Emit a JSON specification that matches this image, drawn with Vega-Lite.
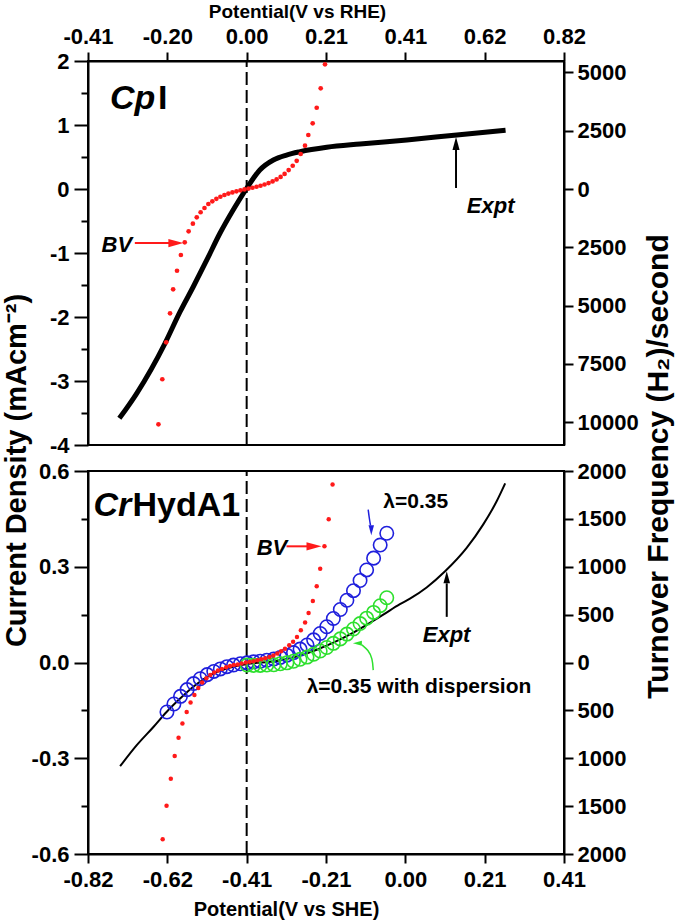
{
  "$schema": "https://vega.github.io/schema/vega-lite/v6.json",
  "autosize": {"type": "none"},
  "padding": {"left": 88, "top": 61, "right": 589, "bottom": 861},
  "config": {
    "font": "Liberation Sans",
    "view": {"stroke": "#000", "strokeWidth": 2},
    "axis": {"domainColor": "#000", "domainWidth": 2, "tickColor": "#000", "tickWidth": 2, "labelColor": "#000", "labelFont": "Liberation Sans", "labelFontWeight": "bold", "labelFontSize": 22, "titleColor": "#000", "titleFont": "Liberation Sans", "titleFontWeight": "bold", "grid": false, "labelOverlap": false, "labelFlush": false, "labelBound": false}
  },
  "datasets": {
    "cpiExpt": [
      {"E": -0.329, "j": -3.583}, {"E": -0.284, "j": -3.192}, {"E": -0.211, "j": -2.411}, {"E": -0.172, "j": -1.917}, {"E": -0.138, "j": -1.527}, {"E": -0.103, "j": -1.109}, {"E": -0.069, "j": -0.692}, {"E": -0.035, "j": -0.328}, {"E": 0.0, "j": 0.011}, {"E": 0.034, "j": 0.297}, {"E": 0.069, "j": 0.453}, {"E": 0.103, "j": 0.531}, {"E": 0.138, "j": 0.583}, {"E": 0.207, "j": 0.652}, {"E": 0.293, "j": 0.703}, {"E": 0.414, "j": 0.766}, {"E": 0.543, "j": 0.844}, {"E": 0.669, "j": 0.917}
    ],
    "cpiBV": [
      {"E": -0.228, "j": -3.677}, {"E": -0.218, "j": -2.973}, {"E": -0.208, "j": -2.396}, {"E": -0.198, "j": -1.943}, {"E": -0.19, "j": -1.567}, {"E": -0.18, "j": -1.277}, {"E": -0.17, "j": -1.031}, {"E": -0.16, "j": -0.833}, {"E": -0.15, "j": -0.661}, {"E": -0.139, "j": -0.542}, {"E": -0.129, "j": -0.442}, {"E": -0.119, "j": -0.363}, {"E": -0.109, "j": -0.297}, {"E": -0.099, "j": -0.234}, {"E": -0.0887, "j": -0.193}, {"E": -0.0783, "j": -0.153}, {"E": -0.0679, "j": -0.121}, {"E": -0.0575, "j": -0.094}, {"E": -0.0472, "j": -0.071}, {"E": -0.0368, "j": -0.053}, {"E": -0.0264, "j": -0.036}, {"E": -0.016, "j": -0.021}, {"E": -0.0057, "j": -0.007}, {"E": 0.0047, "j": 0.006}, {"E": 0.0151, "j": 0.02}, {"E": 0.0255, "j": 0.035}, {"E": 0.0358, "j": 0.051}, {"E": 0.0462, "j": 0.07}, {"E": 0.0566, "j": 0.092}, {"E": 0.067, "j": 0.118}, {"E": 0.0773, "j": 0.149}, {"E": 0.0877, "j": 0.189}, {"E": 0.098, "j": 0.236}, {"E": 0.1085, "j": 0.296}, {"E": 0.119, "j": 0.363}, {"E": 0.1293, "j": 0.44}, {"E": 0.1396, "j": 0.547}, {"E": 0.1507, "j": 0.677}, {"E": 0.1593, "j": 0.844}, {"E": 0.1706, "j": 1.026}, {"E": 0.181, "j": 1.27}, {"E": 0.1913, "j": 1.573}, {"E": 0.2024, "j": 1.948}
    ],
    "crExpt": [
      {"E": -0.737, "j": -0.325}, {"E": -0.694, "j": -0.259}, {"E": -0.651, "j": -0.202}, {"E": -0.617, "j": -0.155}, {"E": -0.582, "j": -0.113}, {"E": -0.548, "j": -0.076}, {"E": -0.505, "j": -0.04}, {"E": -0.462, "j": -0.019}, {"E": -0.41, "j": -0.005}, {"E": -0.332, "j": 0.005}, {"E": -0.272, "j": 0.022}, {"E": -0.229, "j": 0.04}, {"E": -0.186, "j": 0.062}, {"E": -0.143, "j": 0.088}, {"E": -0.1, "j": 0.118}, {"E": -0.057, "j": 0.15}, {"E": -0.014, "j": 0.183}, {"E": 0.012, "j": 0.2}, {"E": 0.055, "j": 0.235}, {"E": 0.102, "j": 0.285}, {"E": 0.159, "j": 0.36}, {"E": 0.201, "j": 0.432}, {"E": 0.236, "j": 0.505}, {"E": 0.258, "j": 0.561}
    ],
    "crBV": [
      {"E": -0.627, "j": -0.554}, {"E": -0.617, "j": -0.449}, {"E": -0.606, "j": -0.364}, {"E": -0.596, "j": -0.293}, {"E": -0.586, "j": -0.236}, {"E": -0.576, "j": -0.191}, {"E": -0.565, "j": -0.155}, {"E": -0.555, "j": -0.125}, {"E": -0.545, "j": -0.102}, {"E": -0.535, "j": -0.08}, {"E": -0.525, "j": -0.063}, {"E": -0.514, "j": -0.049}, {"E": -0.504, "j": -0.039}, {"E": -0.494, "j": -0.031}, {"E": -0.484, "j": -0.025}, {"E": -0.474, "j": -0.02}, {"E": -0.463, "j": -0.015}, {"E": -0.453, "j": -0.011}, {"E": -0.443, "j": -0.008}, {"E": -0.433, "j": -0.006}, {"E": -0.423, "j": -0.003}, {"E": -0.412, "j": 0.0}, {"E": -0.402, "j": 0.002}, {"E": -0.392, "j": 0.004}, {"E": -0.382, "j": 0.007}, {"E": -0.372, "j": 0.01}, {"E": -0.362, "j": 0.013}, {"E": -0.351, "j": 0.017}, {"E": -0.341, "j": 0.022}, {"E": -0.331, "j": 0.028}, {"E": -0.321, "j": 0.035}, {"E": -0.311, "j": 0.043}, {"E": -0.3, "j": 0.054}, {"E": -0.29, "j": 0.065}, {"E": -0.28, "j": 0.08}, {"E": -0.27, "j": 0.101}, {"E": -0.259, "j": 0.125}, {"E": -0.25, "j": 0.155}, {"E": -0.239, "j": 0.193}, {"E": -0.229, "j": 0.239}, {"E": -0.22, "j": 0.294}, {"E": -0.209, "j": 0.364}, {"E": -0.198, "j": 0.449}, {"E": -0.188, "j": 0.558}
    ],
    "crLam": [
      {"E": -0.048, "j": 0.405}, {"E": -0.065, "j": 0.368}, {"E": -0.082, "j": 0.327}, {"E": -0.1, "j": 0.29}, {"E": -0.117, "j": 0.257}, {"E": -0.134, "j": 0.225}, {"E": -0.151, "j": 0.195}, {"E": -0.168, "j": 0.166}, {"E": -0.186, "j": 0.138}, {"E": -0.203, "j": 0.112}, {"E": -0.22, "j": 0.091}, {"E": -0.237, "j": 0.071}, {"E": -0.254, "j": 0.055}, {"E": -0.272, "j": 0.042}, {"E": -0.289, "j": 0.031}, {"E": -0.306, "j": 0.023}, {"E": -0.323, "j": 0.016}, {"E": -0.34, "j": 0.011}, {"E": -0.358, "j": 0.007}, {"E": -0.375, "j": 0.004}, {"E": -0.392, "j": 0.002}, {"E": -0.409, "j": -0.001}, {"E": -0.426, "j": -0.004}, {"E": -0.444, "j": -0.008}, {"E": -0.461, "j": -0.013}, {"E": -0.478, "j": -0.02}, {"E": -0.495, "j": -0.028}, {"E": -0.512, "j": -0.038}, {"E": -0.53, "j": -0.051}, {"E": -0.547, "j": -0.066}, {"E": -0.564, "j": -0.085}, {"E": -0.581, "j": -0.106}, {"E": -0.598, "j": -0.13}, {"E": -0.616, "j": -0.155}
    ],
    "crDis": [
      {"E": -0.048, "j": 0.203}, {"E": -0.065, "j": 0.178}, {"E": -0.082, "j": 0.157}, {"E": -0.1, "j": 0.139}, {"E": -0.117, "j": 0.122}, {"E": -0.134, "j": 0.105}, {"E": -0.151, "j": 0.089}, {"E": -0.168, "j": 0.074}, {"E": -0.186, "j": 0.06}, {"E": -0.203, "j": 0.047}, {"E": -0.22, "j": 0.036}, {"E": -0.237, "j": 0.026}, {"E": -0.254, "j": 0.017}, {"E": -0.272, "j": 0.01}, {"E": -0.289, "j": 0.004}, {"E": -0.306, "j": -0.001}, {"E": -0.323, "j": -0.004}, {"E": -0.34, "j": -0.007}, {"E": -0.358, "j": -0.008}, {"E": -0.375, "j": -0.009}, {"E": -0.392, "j": -0.009}, {"E": -0.409, "j": -0.008}
    ],
    "vTop": [{"E": 0, "j": -4, "j2": 2}],
    "vBot": [{"E": -0.41, "j": -0.6, "j2": 0.6}],
    "tofTop": [{"tof": -10000}, {"tof": 5000}],
    "tofBot": [{"tof": -2000}, {"tof": 2000}],
    "txtTopBigIt": [{"E": -0.353, "j": 1.25, "t": "Cp"}],
    "txtTopBig": [{"E": -0.229, "j": 1.25, "t": "I"}],
    "txtTopIt": [{"E": -0.375, "j": -0.98, "t": "BV"}, {"E": 0.569, "j": -0.375, "t": "Expt"}],
    "txtBotBigIt": [{"E": -0.806, "j": 0.458, "t": "Cr"}],
    "txtBotBig": [{"E": -0.705, "j": 0.458, "t": "HydA1"}],
    "txtBotIt": [{"E": -0.384, "j": 0.336, "t": "BV"}, {"E": 0.045, "j": 0.065, "t": "Expt"}],
    "txtBot": [{"E": -0.057, "j": 0.483, "t": "λ=0.35"}, {"E": -0.255, "j": -0.096, "t": "λ=0.35 with dispersion"}],
    "arrTop": [
      {"a": "bv", "k": 0, "E": -0.289, "j": -0.844}, {"a": "bv", "k": 1, "E": -0.199, "j": -0.844},
      {"a": "ex", "k": 0, "E": 0.541, "j": 0.016}, {"a": "ex", "k": 1, "E": 0.541, "j": 0.64}
    ],
    "headTop": [{"a": "bv", "E": -0.183, "j": -0.844}, {"a": "ex", "E": 0.541, "j": 0.71}],
    "arrBot": [
      {"a": "bv", "k": 0, "E": -0.307, "j": 0.364}, {"a": "bv", "k": 1, "E": -0.252, "j": 0.364},
      {"a": "lam", "k": 0, "E": -0.096, "j": 0.479}, {"a": "lam", "k": 1, "E": -0.093, "j": 0.452}, {"a": "lam", "k": 2, "E": -0.09, "j": 0.43},
      {"a": "ex", "k": 0, "E": 0.107, "j": 0.143}, {"a": "ex", "k": 1, "E": 0.107, "j": 0.248},
      {"a": "dis", "k": 0, "E": -0.083, "j": -0.024}, {"a": "dis", "k": 1, "E": -0.085, "j": 0.013}, {"a": "dis", "k": 2, "E": -0.096, "j": 0.039}, {"a": "dis", "k": 3, "E": -0.112, "j": 0.055}
    ],
    "headBot": [{"a": "bv", "E": -0.236, "j": 0.364}, {"a": "lam", "E": -0.088, "j": 0.414}, {"a": "ex", "E": 0.107, "j": 0.267}, {"a": "dis", "E": -0.124, "j": 0.06}]
  },
  "spacing": 26,
  "bounds": "flush",
  "resolve": {"scale": {"x": "independent", "y": "independent"}},
  "vconcat": [
    {
      "width": 476,
      "height": 384,
      "resolve": {"scale": {"y": "independent"}},
      "layer": [
        {
          "encoding": {
            "x": {"field": "E", "type": "quantitative", "scale": {"domain": [-0.41, 0.82], "nice": false, "zero": false},
              "axis": {"orient": "top", "values": [-0.41, -0.205, 0, 0.205, 0.41, 0.615, 0.82], "labelExpr": "datum.value < -0.3 ? '-0.41' : datum.value < -0.1 ? '-0.20' : datum.value < 0.1 ? '0.00' : datum.value < 0.3 ? '0.21' : datum.value < 0.5 ? '0.41' : datum.value < 0.7 ? '0.62' : '0.82'", "tickSize": 9, "labelPadding": 4, "title": "Potential(V vs RHE)", "titleFontSize": 19, "titleX": 209, "titleY": -44, "titleBaseline": "alphabetic", "titleAlign": "center"}},
            "y": {"field": "j", "type": "quantitative", "scale": {"domain": [-4, 2], "nice": false, "zero": false},
              "axis": {"orient": "left", "values": [-4, -3.5, -3, -2.5, -2, -1.5, -1, -0.5, 0, 0.5, 1, 1.5, 2], "labelExpr": "datum.value % 1 == 0 ? replace(format(datum.value, 'd'), '−', '-') : ''", "tickSize": {"condition": {"test": "datum.value % 1 == 0", "value": 14}, "value": 7}, "labelPadding": 5, "title": "Current Density (mAcm⁻²)", "titleFontSize": 29, "titleAngle": 270, "titleX": -63, "titleY": 409, "titleBaseline": "alphabetic", "titleAlign": "center"}}
          },
          "layer": [
            {"data": {"name": "vTop"}, "mark": {"type": "rule", "strokeDash": [13, 5], "strokeWidth": 2, "color": "#000"}, "encoding": {"y2": {"field": "j2"}}},
            {"data": {"name": "cpiExpt"}, "mark": {"type": "line", "color": "#000", "strokeWidth": 5, "interpolate": "monotone"}},
            {"data": {"name": "cpiBV"}, "mark": {"type": "point", "shape": "circle", "filled": true, "color": "#ff1a1a", "size": 22, "opacity": 1}},
            {"data": {"name": "arrTop"}, "transform": [{"filter": "datum.a == 'bv'"}], "mark": {"type": "line", "color": "#ff1a1a", "strokeWidth": 2}, "encoding": {"detail": {"field": "a"}, "order": {"field": "k"}}},
            {"data": {"name": "arrTop"}, "transform": [{"filter": "datum.a == 'ex'"}], "mark": {"type": "line", "color": "#000", "strokeWidth": 2}, "encoding": {"detail": {"field": "a"}, "order": {"field": "k"}}},
            {"data": {"name": "headTop"}, "transform": [{"filter": "datum.a == 'bv'"}], "mark": {"type": "point", "shape": "M0,-1L-0.55,1L0.55,1Z", "angle": 90, "filled": true, "color": "#ff1a1a", "size": 225, "opacity": 1}},
            {"data": {"name": "headTop"}, "transform": [{"filter": "datum.a == 'ex'"}], "mark": {"type": "point", "shape": "M0,-1L-0.55,1L0.55,1Z", "angle": 0, "filled": true, "color": "#000", "size": 169, "opacity": 1}},
            {"data": {"name": "txtTopBigIt"}, "mark": {"type": "text", "align": "left", "baseline": "alphabetic", "fontSize": 34, "fontStyle": "italic", "fontWeight": "bold", "color": "#000"}, "encoding": {"text": {"field": "t"}}},
            {"data": {"name": "txtTopBig"}, "mark": {"type": "text", "align": "left", "baseline": "alphabetic", "fontSize": 34, "fontWeight": "bold", "color": "#000"}, "encoding": {"text": {"field": "t"}}},
            {"data": {"name": "txtTopIt"}, "mark": {"type": "text", "align": "left", "baseline": "alphabetic", "fontSize": 22, "fontStyle": "italic", "fontWeight": "bold", "color": "#000"}, "encoding": {"text": {"field": "t"}}}
          ]
        },
        {
          "data": {"name": "tofTop"},
          "mark": {"type": "point", "opacity": 0},
          "encoding": {
            "y": {"field": "tof", "type": "quantitative", "scale": {"domain": [-10977, 5489], "nice": false, "zero": false},
              "axis": {"orient": "right", "values": [-10000, -7500, -5000, -2500, 0, 2500, 5000], "labelExpr": "format(abs(datum.value), 'd')", "tickSize": 9, "labelPadding": 4, "title": "Turnover Frequency (H₂)/second", "titleFontSize": 30, "titleAngle": 270, "titleX": 103, "titleY": 405, "titleBaseline": "alphabetic", "titleAlign": "center"}}
          }
        }
      ]
    },
    {
      "width": 476,
      "height": 383,
      "resolve": {"scale": {"y": "independent"}},
      "layer": [
        {
          "encoding": {
            "x": {"field": "E", "type": "quantitative", "scale": {"domain": [-0.82, 0.41], "nice": false, "zero": false},
              "axis": {"orient": "bottom", "values": [-0.82, -0.615, -0.41, -0.205, 0, 0.205, 0.41], "labelExpr": "datum.value < -0.7 ? '-0.82' : datum.value < -0.5 ? '-0.62' : datum.value < -0.3 ? '-0.41' : datum.value < -0.1 ? '-0.21' : datum.value < 0.1 ? '0.00' : datum.value < 0.3 ? '0.21' : '0.41'", "tickSize": 9, "labelPadding": 6, "title": "Potential(V vs SHE)", "titleFontSize": 20, "titleX": 198, "titleY": 61, "titleBaseline": "alphabetic", "titleAlign": "center"}},
            "y": {"field": "j", "type": "quantitative", "scale": {"domain": [-0.6, 0.6], "nice": false, "zero": false},
              "axis": {"orient": "left", "values": [-0.6, -0.45, -0.3, -0.15, 0, 0.15, 0.3, 0.45, 0.6], "labelExpr": "abs(round(datum.value * 100)) % 30 == 0 ? replace(format(datum.value, '.1f'), '−', '-') : ''", "tickSize": {"condition": {"test": "abs(round(datum.value * 100)) % 30 == 0", "value": 14}, "value": 7}, "labelPadding": 5, "title": null}}
          },
          "layer": [
            {"data": {"name": "vBot"}, "mark": {"type": "rule", "strokeDash": [13, 5], "strokeWidth": 2, "color": "#000"}, "encoding": {"y2": {"field": "j2"}}},
            {"data": {"name": "crExpt"}, "mark": {"type": "line", "color": "#000", "strokeWidth": 2, "interpolate": "monotone"}},
            {"data": {"name": "crLam"}, "mark": {"type": "point", "shape": "circle", "filled": false, "color": "#1f1fdc", "size": 180, "strokeWidth": 1.6, "opacity": 1}},
            {"data": {"name": "crDis"}, "mark": {"type": "point", "shape": "circle", "filled": false, "color": "#2ee02e", "size": 180, "strokeWidth": 1.6, "opacity": 1}},
            {"data": {"name": "crBV"}, "mark": {"type": "point", "shape": "circle", "filled": true, "color": "#ff1a1a", "size": 20, "opacity": 1}},
            {"data": {"name": "arrBot"}, "transform": [{"filter": "datum.a == 'bv'"}], "mark": {"type": "line", "color": "#ff1a1a", "strokeWidth": 2}, "encoding": {"detail": {"field": "a"}, "order": {"field": "k"}}},
            {"data": {"name": "arrBot"}, "transform": [{"filter": "datum.a == 'lam'"}], "mark": {"type": "line", "color": "#1f1fdc", "strokeWidth": 1.5, "interpolate": "monotone"}, "encoding": {"detail": {"field": "a"}, "order": {"field": "k"}}},
            {"data": {"name": "arrBot"}, "transform": [{"filter": "datum.a == 'ex'"}], "mark": {"type": "line", "color": "#000", "strokeWidth": 2}, "encoding": {"detail": {"field": "a"}, "order": {"field": "k"}}},
            {"data": {"name": "arrBot"}, "transform": [{"filter": "datum.a == 'dis'"}], "mark": {"type": "line", "color": "#2ee02e", "strokeWidth": 1.5, "interpolate": "basis"}, "encoding": {"detail": {"field": "a"}, "order": {"field": "k"}}},
            {"data": {"name": "headBot"}, "transform": [{"filter": "datum.a == 'bv'"}], "mark": {"type": "point", "shape": "M0,-1L-0.55,1L0.55,1Z", "angle": 90, "filled": true, "color": "#ff1a1a", "size": 225, "opacity": 1}},
            {"data": {"name": "headBot"}, "transform": [{"filter": "datum.a == 'lam'"}], "mark": {"type": "point", "shape": "M0,-1L-0.55,1L0.55,1Z", "angle": 180, "filled": true, "color": "#1f1fdc", "size": 100, "opacity": 1}},
            {"data": {"name": "headBot"}, "transform": [{"filter": "datum.a == 'ex'"}], "mark": {"type": "point", "shape": "M0,-1L-0.55,1L0.55,1Z", "angle": 0, "filled": true, "color": "#000", "size": 144, "opacity": 1}},
            {"data": {"name": "headBot"}, "transform": [{"filter": "datum.a == 'dis'"}], "mark": {"type": "point", "shape": "M0,-1L-0.55,1L0.55,1Z", "angle": 270, "filled": true, "color": "#2ee02e", "size": 81, "opacity": 1}},
            {"data": {"name": "txtBotBigIt"}, "mark": {"type": "text", "align": "left", "baseline": "alphabetic", "fontSize": 34, "fontStyle": "italic", "fontWeight": "bold", "color": "#000"}, "encoding": {"text": {"field": "t"}}},
            {"data": {"name": "txtBotBig"}, "mark": {"type": "text", "align": "left", "baseline": "alphabetic", "fontSize": 34, "fontWeight": "bold", "color": "#000"}, "encoding": {"text": {"field": "t"}}},
            {"data": {"name": "txtBotIt"}, "mark": {"type": "text", "align": "left", "baseline": "alphabetic", "fontSize": 22, "fontStyle": "italic", "fontWeight": "bold", "color": "#000"}, "encoding": {"text": {"field": "t"}}},
            {"data": {"name": "txtBot"}, "mark": {"type": "text", "align": "left", "baseline": "alphabetic", "fontSize": 21, "fontWeight": "bold", "color": "#000"}, "encoding": {"text": {"field": "t"}}}
          ]
        },
        {
          "data": {"name": "tofBot"},
          "mark": {"type": "point", "opacity": 0},
          "encoding": {
            "y": {"field": "tof", "type": "quantitative", "scale": {"domain": [-2000, 2000], "nice": false, "zero": false},
              "axis": {"orient": "right", "values": [-2000, -1500, -1000, -500, 0, 500, 1000, 1500, 2000], "labelExpr": "format(abs(datum.value), 'd')", "tickSize": 9, "labelPadding": 4, "title": null}}
          }
        }
      ]
    }
  ]
}
